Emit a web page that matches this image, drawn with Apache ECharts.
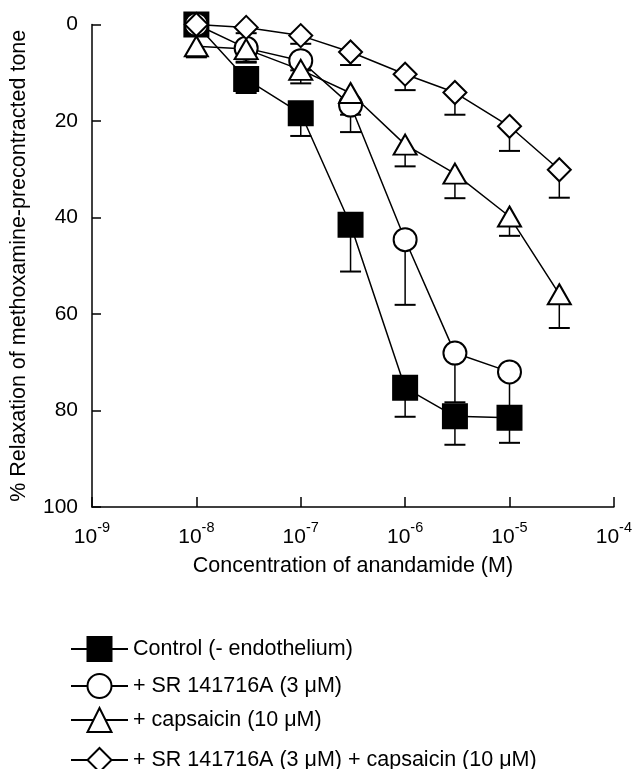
<!DOCTYPE html>
<html>
<head>
<meta charset="utf-8">
<script src="https://cdn.jsdelivr.net/npm/echarts@6/dist/echarts.min.js"></script>
<style>
  html, body { margin: 0; padding: 0; background: #fff; }
  #chart { width: 635px; height: 769px; }
</style>
</head>
<body>
<div id="chart"></div>
<script>
// anandamide concentration (M) and mean % relaxation, SEM
const concentration = [1e-8, 3e-8, 1e-7, 3e-7, 1e-6, 3e-6, 1e-5, 3e-5];
const controlMean = [0, 11.3, 18.4, 41.5, 75.3, 81.2, 81.5];
const controlSem = [0, 2.9, 4.7, 9.7, 6.0, 5.9, 5.2];
const srMean = [0, 4.9, 7.5, 16.7, 44.6, 68.1, 72.0];
const srSem = [0, 2.8, 2.0, 5.6, 13.5, 10.2, 7.5];
const capsMean = [4.5, 5.1, 9.4, 14.2, 24.9, 30.9, 39.8, 55.9];
const capsSem = [2.3, 2.8, 2.8, 4.5, 4.5, 5.1, 4.0, 7.0];
const bothMean = [0, 0.6, 2.3, 5.7, 10.3, 14.1, 21.1, 30.1];
const bothSem = [0, 1.2, 1.7, 2.7, 3.3, 4.6, 5.1, 5.8];

const seriesNames = [
  'Control (- endothelium)',
  '+ SR 141716A (3 μM)',
  '+ capsaicin (10 μM)',
  '+ SR 141716A (3 μM) + capsaicin (10 μM)'
];
const yTicks = [0, 20, 40, 60, 80, 100];

const FONT = 'Liberation Sans, Arial, Helvetica, sans-serif';
const chart = echarts.init(document.getElementById('chart'), null, { renderer: 'canvas' });

function points(means) {
  return means.map((m, i) => [concentration[i], m]);
}
function bars(means, sems) {
  return means.map((m, i) => [concentration[i], m, sems[i]]);
}

// vertical one-sided error bar (downwards on the inverted axis) with a cap
function renderErr(params, api) {
  const sem = api.value(2);
  if (!sem) return null;
  const p0 = api.coord([api.value(0), api.value(1)]);
  const p1 = api.coord([api.value(0), api.value(1) + sem]);
  const half = 10.5;
  return {
    type: 'group',
    children: [
      { type: 'line', shape: { x1: p0[0], y1: p0[1], x2: p1[0], y2: p1[1] }, style: { stroke: '#000', lineWidth: 1.5 } },
      { type: 'line', shape: { x1: p1[0] - half, y1: p1[1], x2: p1[0] + half, y2: p1[1] }, style: { stroke: '#000', lineWidth: 2 } }
    ]
  };
}

function errSeries(means, sems) {
  return {
    type: 'custom',
    renderItem: renderErr,
    data: bars(means, sems),
    encode: { x: 0, y: 1 },
    z: 1,
    silent: true
  };
}

function lineSeries(name, means, symbol, size, fill) {
  return {
    name: name,
    type: 'line',
    data: points(means),
    symbol: symbol,
    symbolSize: size,
    showAllSymbol: true,
    z: 2,
    lineStyle: { color: '#000', width: 1.5 },
    itemStyle: { color: fill, borderColor: '#000', borderWidth: 2 }
  };
}

const legendRows = [646, 683, 717, 757];
const legends = seriesNames.map((n, i) => ({
  data: [n],
  left: 65,
  top: legendRows[i] - 15,
  orient: 'vertical',
  itemWidth: 57,
  itemHeight: 30,
  selectedMode: false,
  textStyle: { fontFamily: FONT, fontSize: 21.5, color: '#000' }
}));

chart.setOption({
  animation: false,
  backgroundColor: '#fff',
  textStyle: { fontFamily: FONT },
  grid: { left: 92, right: 17, top: 24.5, bottom: 262 },
  legend: legends,
  xAxis: {
    type: 'log',
    logBase: 10,
    min: 1e-9,
    max: 1e-4,
    name: 'Concentration of anandamide (M)',
    nameLocation: 'middle',
    nameGap: 48,
    nameTextStyle: { fontFamily: FONT, fontSize: 21.5, color: '#000' },
    axisLine: { onZero: false, lineStyle: { color: '#000', width: 1.5 } },
    axisTick: { inside: true, length: 10, lineStyle: { color: '#000', width: 1.5 } },
    splitLine: { show: false },
    minorTick: { show: false },
    axisLabel: {
      margin: 13,
      color: '#000',
      formatter: (v) => '{b|10}{s|' + Math.round(Math.log10(v)) + '}',
      rich: {
        b: { fontFamily: FONT, fontSize: 21, lineHeight: 28, verticalAlign: 'bottom', color: '#000' },
        s: { fontFamily: FONT, fontSize: 14.5, lineHeight: 16, verticalAlign: 'top', color: '#000' }
      }
    }
  },
  yAxis: {
    type: 'value',
    inverse: true,
    min: yTicks[0],
    max: yTicks[yTicks.length - 1],
    interval: 20,
    name: '% Relaxation of methoxamine-precontracted tone',
    nameLocation: 'middle',
    nameRotate: 90,
    nameGap: 62,
    nameTextStyle: { fontFamily: FONT, fontSize: 21.5, color: '#000' },
    axisLine: { show: true, onZero: false, lineStyle: { color: '#000', width: 1.5 } },
    axisTick: { inside: true, length: 9, lineStyle: { color: '#000', width: 1.5 } },
    splitLine: { show: false },
    axisLabel: { margin: 14, fontFamily: FONT, fontSize: 21, color: '#000' }
  },
  series: [
    errSeries(controlMean, controlSem),
    errSeries(srMean, srSem),
    errSeries(capsMean, capsSem),
    errSeries(bothMean, bothSem),
    lineSeries(seriesNames[0], controlMean, 'rect', 24, '#000'),
    lineSeries(seriesNames[1], srMean, 'circle', 23, '#fff'),
    lineSeries(seriesNames[2], capsMean, 'triangle', [23, 20], '#fff'),
    lineSeries(seriesNames[3], bothMean, 'diamond', 23, '#fff')
  ]
});
</script>
</body>
</html>
